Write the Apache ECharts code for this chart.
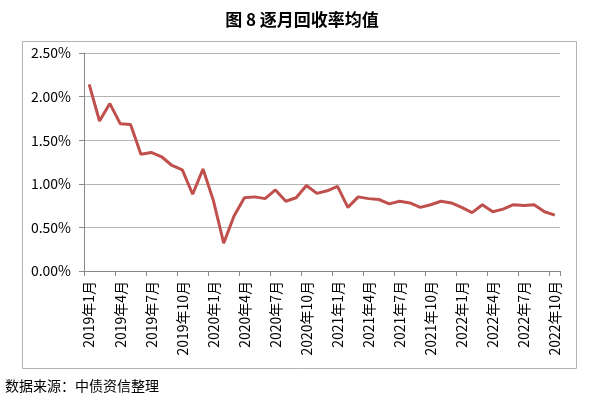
<!DOCTYPE html>
<html><head><meta charset="utf-8">
<script src="https://cdn.jsdelivr.net/npm/echarts@6/dist/echarts.min.js"></script>
<style>html,body{margin:0;padding:0;background:#fff}#c{width:604px;height:410px}</style>
</head><body><div id="c"></div>
<script>
const categories = [
 "2019年1月","2019年2月","2019年3月","2019年4月","2019年5月","2019年6月","2019年7月","2019年8月","2019年9月","2019年10月","2019年11月","2019年12月",
 "2020年1月","2020年2月","2020年3月","2020年4月","2020年5月","2020年6月","2020年7月","2020年8月","2020年9月","2020年10月","2020年11月","2020年12月",
 "2021年1月","2021年2月","2021年3月","2021年4月","2021年5月","2021年6月","2021年7月","2021年8月","2021年9月","2021年10月","2021年11月","2021年12月",
 "2022年1月","2022年2月","2022年3月","2022年4月","2022年5月","2022年6月","2022年7月","2022年8月","2022年9月","2022年10月"
];
const recoveryRate = [
 2.14,1.72,1.92,1.69,1.68,1.34,1.36,1.31,1.21,1.16,0.88,1.17,
 0.81,0.32,0.63,0.84,0.85,0.83,0.93,0.80,0.84,0.98,0.89,0.92,
 0.97,0.73,0.85,0.83,0.82,0.77,0.80,0.78,0.73,0.76,0.80,0.78,
 0.73,0.67,0.76,0.68,0.71,0.76,0.75,0.76,0.68,0.64
];
const yTicks = { min: 0, max: 2.5, interval: 0.5 };
const titleText = "图 8 逐月回收率均值";
const sourceText = "数据来源：中债资信整理";

const FONT = '"Noto Sans CJK SC", "Noto Sans", sans-serif';
const chart = echarts.init(document.getElementById('c'), null, {renderer:'canvas'});
chart.setOption({
  animation: false,
  backgroundColor: '#fff',
  title: {
    text: titleText, left: 'center', top: 6,
    textStyle: { fontFamily: FONT, fontSize: 17, fontWeight: 'bold', color: '#000' }
  },
  graphic: [
    { type: 'rect', shape: { x: 22.5, y: 41.5, width: 554, height: 327 },
      style: { fill: 'none', stroke: '#b3b3b3', lineWidth: 1 }, z: -1 },
    { type: 'text', left: 5, top: 379,
      style: { text: sourceText, font: '14px ' + FONT, fill: '#000' } }
  ],
  grid: { left: 84, right: 44, top: 53, bottom: 139, containLabel: false },
  xAxis: {
    type: 'category', data: categories, boundaryGap: true,
    axisLine: { lineStyle: { color: '#888', width: 1 } },
    axisTick: { show: true, interval: 2, length: 5, lineStyle: { color: '#888' } },
    axisLabel: { interval: 2, rotate: 90, margin: 10, fontFamily: FONT, fontSize: 14, color: '#000' },
    splitLine: { show: false }
  },
  yAxis: {
    type: 'value', min: yTicks.min, max: yTicks.max, interval: yTicks.interval,
    axisLine: { show: true, lineStyle: { color: '#888', width: 1 } },
    axisTick: { show: true, length: 5, lineStyle: { color: '#888' } },
    axisLabel: { formatter: v => v.toFixed(2) + '%', margin: 13, fontFamily: FONT, fontSize: 14, color: '#000' },
    splitLine: { show: true, lineStyle: { color: '#b3b3b3', width: 1 } }
  },
  series: [{
    type: 'line', data: recoveryRate, symbol: 'none', smooth: false,
    lineStyle: { color: '#C0504D', width: 3 }
  }]
});
</script></body></html>
